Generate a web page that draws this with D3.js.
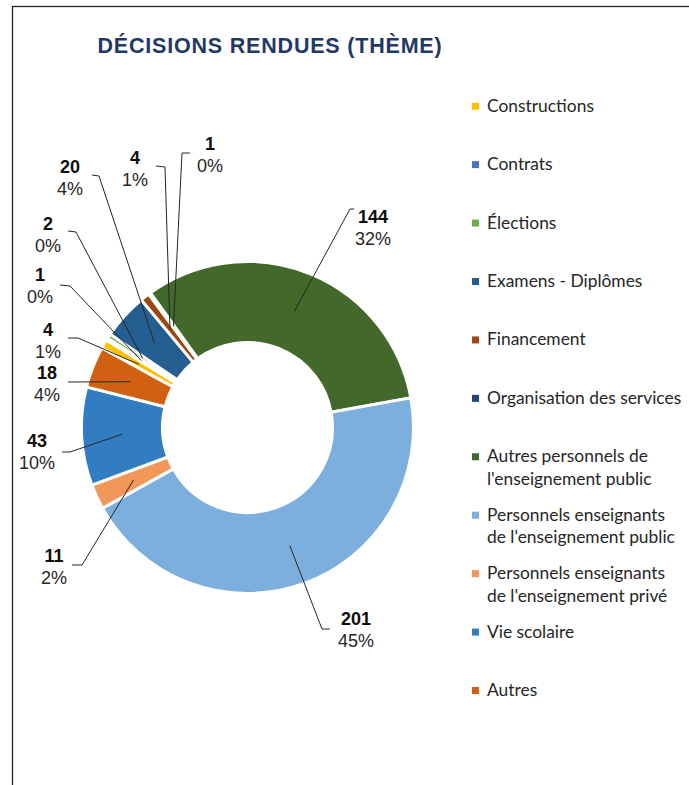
<!DOCTYPE html>
<html>
<head>
<meta charset="utf-8">
<script src="https://cdn.jsdelivr.net/npm/d3@7"></script>
<style>
    body { margin: 0; background: #fff; }
    svg { display: block; }
</style>
</head>
<body>
<div id="chart"></div>
<script>
// Décisions rendues par thème
const categories = ["Constructions", "Contrats", "Élections", "Examens - Diplômes", "Financement",
    "Organisation des services", "Autres personnels de l'enseignement public",
    "Personnels enseignants de l'enseignement public", "Personnels enseignants de l'enseignement privé",
    "Vie scolaire", "Autres"];
const values = [4, 1, 2, 20, 4, 1, 144, 201, 11, 43, 18];
const legendLines = [["Constructions"], ["Contrats"], ["Élections"], ["Examens - Diplômes"], ["Financement"],
    ["Organisation des services"], ["Autres personnels de", "l'enseignement public"],
    ["Personnels enseignants", "de l'enseignement public"], ["Personnels enseignants", "de l'enseignement privé"],
    ["Vie scolaire"], ["Autres"]];

const palette = ["#FFC000", "#4472C4", "#70AD47", "#255E91", "#9E480E", "#264478",
    "#43682B", "#7CAFDD", "#F1975A", "#327DC2", "#D26012"];

// label placement (text x, first baseline, knee of leader, end of leader)
const labelLayout = [
    {x: 48, y: 336, knee: [78, 338], end: [68, 338]},
    {x: 40, y: 281, knee: [70, 286], end: [60, 285]},
    {x: 48, y: 230, knee: [76, 232], end: [68, 231]},
    {x: 70, y: 173, knee: [99, 176], end: [92, 175]},
    {x: 135, y: 164, knee: [165, 167], end: [156, 166]},
    {x: 210, y: 150, knee: [182, 153], end: [190, 153]},
    {x: 373, y: 223, knee: [350, 209], end: [354, 209]},
    {x: 356, y: 625, knee: [322, 629], end: [330, 629]},
    {x: 54, y: 562, knee: [82, 565], end: [72, 565]},
    {x: 37, y: 447, knee: [70, 452], end: [62, 452]},
    {x: 47, y: 379, knee: [72, 382], end: [68, 382]}
];

const width = 689, height = 785;
const cx = 247.5, cy = 427.5, outerR = 166, innerR = 85;
const startAngle = -61.4 * Math.PI / 180;

function drawChart() {
    let svg = d3.select("#chart").append("svg")
        .attr("width", width)
        .attr("height", height);

    svg.append("rect")
        .attr("width", width).attr("height", height)
        .attr("fill", "#fff");

    // frame
    svg.append("rect")
        .attr("x", 12.5).attr("y", 6.5)
        .attr("width", 720).attr("height", 820)
        .attr("fill", "none")
        .attr("stroke", "#262626")
        .attr("stroke-width", 1.3);

    svg.append("text")
        .attr("x", 270).attr("y", 53)
        .attr("text-anchor", "middle")
        .style("font-family", "'Liberation Sans', Arial, sans-serif")
        .style("font-weight", "bold")
        .style("font-size", "21.5px")
        .style("letter-spacing", "0.8px")
        .attr("fill", "#1F3864")
        .text("DÉCISIONS RENDUES (THÈME)");

    let data = categories.map((c, i) => ({name: c, value: values[i], idx: i}));
    let total = d3.sum(values);

    let pie = d3.pie()
        .value(d => d.value)
        .sort(null)
        .startAngle(startAngle)
        .endAngle(startAngle + 2 * Math.PI);
    let arc = d3.arc().innerRadius(innerR).outerRadius(outerR);
    let arcs = pie(data);

    let g = svg.append("g").attr("transform", `translate(${cx},${cy})`);
    g.selectAll("path")
        .data(arcs)
        .enter()
        .append("path")
        .attr("d", arc)
        .attr("fill", d => palette[d.data.idx])
        .attr("stroke", "#fff")
        .attr("stroke-width", 3)
        .attr("stroke-linejoin", "miter");

    // leader lines from slice centroid
    let leaders = svg.append("g");
    arcs.forEach(d => {
        let c = arc.centroid(d);
        let lay = labelLayout[d.data.idx];
        let pts = [[cx + c[0], cy + c[1]], lay.knee, lay.end];
        leaders.append("path")
            .attr("d", d3.line()(pts))
            .attr("fill", "none")
            .attr("stroke", "#262626")
            .attr("stroke-width", 1);
    });

    let labels = svg.append("g")
        .style("font-family", "'Liberation Sans', Arial, sans-serif")
        .style("font-size", "18px")
        .attr("text-anchor", "middle");
    arcs.forEach(d => {
        let lay = labelLayout[d.data.idx];
        labels.append("text")
            .attr("x", lay.x).attr("y", lay.y)
            .style("font-weight", "bold")
            .attr("fill", "#0d0d0d")
            .text(d.data.value);
        labels.append("text")
            .attr("x", lay.x).attr("y", lay.y + 22)
            .attr("fill", "#262626")
            .text(Math.round(d.data.value / total * 100) + "%");
    });

    // legend
    let legend = svg.append("g")
        .style("font-family", "Lato, 'Open Sans', sans-serif")
        .style("font-size", "17.4px");
    let legendY = d3.scaleLinear().domain([0, 10]).range([111.7, 696]);
    legendLines.forEach((lines, i) => {
        let y = legendY(i);
        legend.append("rect")
            .attr("x", 472).attr("y", y - 9)
            .attr("width", 7).attr("height", 7)
            .attr("fill", palette[i]);
        lines.forEach((t, j) => {
            legend.append("text")
                .attr("x", 487).attr("y", y + j * 22.5)
                .attr("fill", "#262626")
                .text(t);
        });
    });
}

drawChart();
</script>
</body>
</html>
